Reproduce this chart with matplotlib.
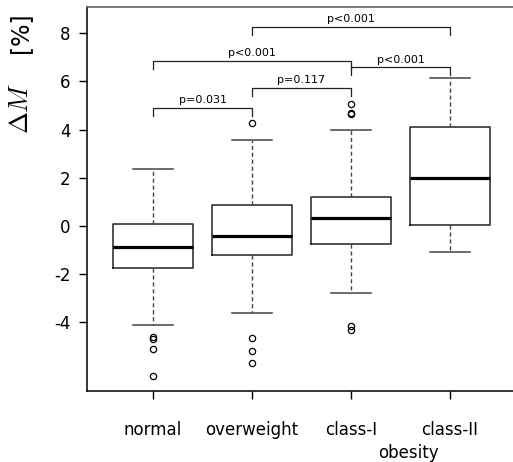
import numpy as np
import matplotlib
matplotlib.use("Agg")
import matplotlib.pyplot as plt

plt.rcParams['font.family'] = ['DejaVu Sans']
plt.rcParams['mathtext.fontset'] = 'cm'

# Donnees
groupes = ["normal", "overweight", "class-I", "class-II"]
moustache_bas = [-4.12, -3.60, -2.77, -1.07]
q1 = [-1.76, -1.20, -0.75, 0.04]
mediane = [-0.87, -0.40, 0.32, 1.99]
q3 = [0.08, 0.87, 1.22, 4.10]
moustache_haut = [2.37, 3.57, 3.98, 6.15]
aberrants = [
    [-4.63, -4.68, -5.12, -6.21],
    [4.26, -4.66, -5.17, -5.70],
    [5.05, 4.66, 4.70, -4.15, -4.32],
    [],
]

# Comparaisons (groupe a, groupe b, hauteur, texte)
comp_a = [1, 2, 1, 3, 2]
comp_b = [2, 3, 3, 4, 4]
comp_y = [4.91, 5.74, 6.85, 6.58, 8.26]
comp_txt = ["p=0.031", "p=0.117", "p<0.001", "p<0.001", "p<0.001"]

yticks = [-4, -2, 0, 2, 4, 6, 8]

fig = plt.figure(figsize=(5.13, 4.62), dpi=100)
# l'axe depasse a droite : pas de bord droit visible
ax = fig.add_axes([87 / 513, 1 - 390.5 / 462, 440 / 513, (390.5 - 6.7) / 462])

stats = []
for i, g in enumerate(groupes):
    stats.append(dict(label=g, whislo=moustache_bas[i], q1=q1[i], med=mediane[i],
                      q3=q3[i], whishi=moustache_haut[i], fliers=aberrants[i]))

ax.bxp(stats, positions=range(1, 5), widths=0.8, showfliers=True,
       boxprops=dict(color="#222222", lw=1.1),
       medianprops=dict(color="black", lw=2.3, solid_capstyle="butt"),
       whiskerprops=dict(color="#444444", lw=1.0, linestyle=(0, (3, 2))),
       capprops=dict(color="#444444", lw=1.1),
       flierprops=dict(marker="o", markersize=4.5, markerfacecolor="none",
                       markeredgecolor="black", markeredgewidth=0.9),
       capwidths=0.4)

# Crochets de significativite
for a, b, h, t in zip(comp_a, comp_b, comp_y, comp_txt):
    ax.plot([a, a, b, b], [h - 0.33, h, h, h - 0.33], color="#222222", lw=0.9)
    ax.text((a + b) / 2, h + 0.12, t, ha="center", va="bottom", fontsize=8)

ax.set_xlim(0.333, 0.333 + 440 / 99)
ax.set_ylim(-6.83, 9.10)
ax.set_yticks(yticks)
ax.set_yticklabels([str(v) for v in yticks], fontsize=12)
ax.set_xticks(range(1, 5))
ax.set_xticklabels(groupes, fontsize=12)
ax.tick_params(axis="y", length=6, width=1, pad=6)
ax.tick_params(axis="x", length=6, width=1, pad=16)
for s in ax.spines.values():
    s.set_linewidth(1.1)
ax.spines["top"].set_color("#555555")

fig.text(408 / 513, 1 - 453 / 462, "obesity", ha="center", va="center", fontsize=12)
fig.text(21 / 513, 1 - 108 / 462, r"$\Delta M$", rotation=90, ha="center", va="center", fontsize=19)
fig.text(20 / 513, 1 - 33 / 462, "[%]", rotation=90, ha="center", va="center", fontsize=17)

fig.savefig("out.png", dpi=100)
